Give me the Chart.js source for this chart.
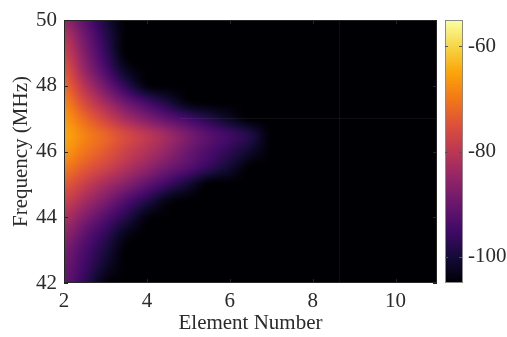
<!DOCTYPE html>
<html>
<head>
<meta charset="utf-8">
<script src="https://cdn.jsdelivr.net/npm/chart.js@4"></script>
<style>
  html, body { margin: 0; padding: 0; background: #fff; }
</style>
</head>
<body>
<canvas id="chart" width="507" height="337"></canvas>
<script>
// grid nodes (element number x frequency), values in dB
const elementNumbers = [2, 2.5, 3, 3.5, 4, 4.5, 5, 5.5, 6, 6.5, 7, 7.5, 8, 11];
const frequencies = [42, 42.5, 43, 43.5, 44, 44.5, 45, 45.5, 46, 46.5, 47, 47.5, 48, 48.5, 49, 49.5, 50];
const power = [
    [-91, -97, -104, -105, -105, -105, -105, -105, -105, -105, -105, -105, -105, -105],
    [-90, -95.5, -101.5, -105, -105, -105, -105, -105, -105, -105, -105, -105, -105, -105],
    [-88.5, -94, -99.5, -105, -105, -105, -105, -105, -105, -105, -105, -105, -105, -105],
    [-85.5, -91.5, -97, -103, -105, -105, -105, -105, -105, -105, -105, -105, -105, -105],
    [-82, -87.5, -93, -98.5, -104, -105, -105, -105, -105, -105, -105, -105, -105, -105],
    [-78, -83, -88, -93.5, -98.5, -103.5, -105, -105, -105, -105, -105, -105, -105, -105],
    [-74, -78.5, -83, -87, -91.5, -96, -100.5, -105, -105, -105, -105, -105, -105, -105],
    [-70, -74, -77.5, -81.5, -85.5, -89.5, -93, -97, -101, -105, -105, -105, -105, -105],
    [-66.5, -70.5, -74, -78, -81.5, -85.5, -90, -94, -97.5, -101.5, -105, -105, -105, -105],
    [-65, -69, -72.5, -76.5, -80, -84, -88.5, -92.5, -95.5, -99, -105, -105, -105, -105],
    [-66.5, -72, -77.5, -83, -87.5, -91.5, -95, -98.5, -102, -105, -105, -105, -105, -105],
    [-69, -76.5, -83.5, -90, -95, -99.5, -104, -105, -105, -105, -105, -105, -105, -105],
    [-72, -81, -89.5, -97.5, -104, -105, -105, -105, -105, -105, -105, -105, -105, -105],
    [-75, -85, -94, -102.5, -105, -105, -105, -105, -105, -105, -105, -105, -105, -105],
    [-78, -87.5, -96.5, -105, -105, -105, -105, -105, -105, -105, -105, -105, -105, -105],
    [-81, -89.5, -98, -105, -105, -105, -105, -105, -105, -105, -105, -105, -105, -105],
    [-85, -92, -99.5, -105, -105, -105, -105, -105, -105, -105, -105, -105, -105, -105]
];
const xTicks = [2, 4, 6, 8, 10];
const yTicks = [42, 44, 46, 48, 50];
const cbarTicks = [-100, -80, -60];
const cRange = [-105, -55];

// inferno colormap stops
const INFERNO = ['#000004', '#160b39', '#420a68', '#6a176e', '#932667', '#bc3754',
                 '#dd513a', '#f37819', '#fca50a', '#f6d746', '#fcffa4']
    .map(h => [parseInt(h.slice(1, 3), 16), parseInt(h.slice(3, 5), 16), parseInt(h.slice(5, 7), 16)]);

function inferno(t) {
    t = Math.min(1, Math.max(0, t));
    const p = t * (INFERNO.length - 1);
    const i = Math.min(INFERNO.length - 2, Math.floor(p));
    const f = p - i;
    const a = INFERNO[i], b = INFERNO[i + 1];
    return [a[0] + (b[0] - a[0]) * f, a[1] + (b[1] - a[1]) * f, a[2] + (b[2] - a[2]) * f];
}

function findCell(arr, v) {
    for (let i = 0; i < arr.length - 1; i++) {
        if (v <= arr[i + 1]) return i;
    }
    return arr.length - 2;
}

// smooth (Catmull-Rom) shading between grid nodes, like shading interp
function cr(p0, p1, p2, p3, t) {
    return 0.5 * (2 * p1 + (p2 - p0) * t + (2 * p0 - 5 * p1 + 4 * p2 - p3) * t * t +
                  (3 * p1 - p0 - 3 * p2 + p3) * t * t * t);
}

function sample(e, f) {
    const nx = elementNumbers.length, ny = frequencies.length;
    const i = findCell(elementNumbers, e);
    const j = findCell(frequencies, f);
    const tx = Math.min(1, Math.max(0, (e - elementNumbers[i]) / (elementNumbers[i + 1] - elementNumbers[i])));
    const ty = Math.min(1, Math.max(0, (f - frequencies[j]) / (frequencies[j + 1] - frequencies[j])));
    const ci = k => Math.min(nx - 1, Math.max(0, k));
    const cj = k => Math.min(ny - 1, Math.max(0, k));
    const rows = [-1, 0, 1, 2].map(d => {
        const r = power[cj(j + d)];
        return cr(r[ci(i - 1)], r[i], r[i + 1], r[ci(i + 2)], tx);
    });
    return cr(rows[0], rows[1], rows[2], rows[3], ty);
}

const TEXT = '#2b2b2b';
const FONT = { family: '"Liberation Serif", "DejaVu Serif", serif', size: 21 };

const heatmapPlugin = {
    id: 'heatmap',
    beforeDatasetsDraw(chart) {
        const { ctx, chartArea: a, scales: { x, y, c } } = chart;
        const left = Math.round(a.left), top = Math.round(a.top);
        const w = Math.round(a.right) - left, h = Math.round(a.bottom) - top;
        const img = ctx.createImageData(w, h);
        for (let j = 0; j < h; j++) {
            const f = y.getValueForPixel(top + j + 0.5);
            for (let i = 0; i < w; i++) {
                const e = x.getValueForPixel(left + i + 0.5);
                const v = sample(e, f);
                const t = (c.bottom - c.getPixelForValue(v)) / (c.bottom - c.top);
                const col = inferno(t);
                const k = (j * w + i) * 4;
                img.data[k] = col[0];
                img.data[k + 1] = col[1];
                img.data[k + 2] = col[2];
                img.data[k + 3] = 255;
            }
        }
        ctx.putImageData(img, left, top);
    },
    afterDraw(chart) {
        const { ctx, chartArea: a, scales: { x, y, c } } = chart;
        ctx.save();
        // faint patch seams seen in the original render
        ctx.strokeStyle = 'rgba(255,255,255,0.06)';
        ctx.lineWidth = 1;
        ctx.beginPath();
        const sy = Math.round(y.getPixelForValue(47.02)) + 0.5;
        const sx = Math.round(x.getPixelForValue(8.64)) + 0.5;
        ctx.moveTo(x.getPixelForValue(4.8), sy); ctx.lineTo(a.right, sy);
        ctx.moveTo(sx, a.top); ctx.lineTo(sx, a.bottom);
        ctx.stroke();

        // axes box + inward ticks
        ctx.strokeStyle = '#262626';
        ctx.strokeRect(a.left + 0.5, a.top + 0.5, a.right - a.left - 1, a.bottom - a.top - 1);
        ctx.beginPath();
        xTicks.forEach(v => {
            const px = Math.round(x.getPixelForValue(v)) + 0.5;
            ctx.moveTo(px, a.bottom); ctx.lineTo(px, a.bottom - 4);
            ctx.moveTo(px, a.top); ctx.lineTo(px, a.top + 4);
        });
        yTicks.forEach(v => {
            const py = Math.round(y.getPixelForValue(v)) + 0.5;
            ctx.moveTo(a.left, py); ctx.lineTo(a.left + 4, py);
            ctx.moveTo(a.right, py); ctx.lineTo(a.right - 4, py);
        });
        ctx.stroke();

        // colorbar
        const bx = Math.round(a.right) + 8, bw = 18;
        for (let py = Math.round(c.top); py < Math.round(c.bottom); py++) {
            const v = c.getValueForPixel(py + 0.5);
            const col = inferno((v - cRange[0]) / (cRange[1] - cRange[0]));
            ctx.fillStyle = `rgb(${col[0] | 0},${col[1] | 0},${col[2] | 0})`;
            ctx.fillRect(bx, py, bw, 1);
        }
        ctx.strokeStyle = '#8a8a8a';
        ctx.strokeRect(bx + 0.5, Math.round(c.top) + 0.5, bw - 1, Math.round(c.bottom - c.top) - 1);
        ctx.strokeStyle = '#555';
        ctx.beginPath();
        cbarTicks.forEach(v => {
            const py = Math.round(c.getPixelForValue(v)) + 0.5;
            ctx.moveTo(bx + bw - 1, py); ctx.lineTo(bx + bw - 4, py);
            ctx.moveTo(bx, py); ctx.lineTo(bx + 3, py);
        });
        ctx.stroke();
        ctx.restore();
    }
};

const fixedTicks = list => scale => { scale.ticks = list.map(v => ({ value: v })); };
// fixed box sizes, no label overflow padding
const fitBox = (w, h) => s => {
    if (w !== null) s.width = w;
    if (h !== null) s.height = h;
    s.paddingTop = 0; s.paddingBottom = 0; s.paddingLeft = 0; s.paddingRight = 0;
};

new Chart(document.getElementById('chart'), {
    type: 'scatter',
    data: { datasets: [{ data: [] }] },
    options: {
        responsive: false,
        animation: false,
        devicePixelRatio: 1,
        layout: { padding: { top: 20, left: 0, right: 0, bottom: 0 } },
        plugins: { legend: { display: false }, tooltip: { enabled: false } },
        scales: {
            x: {
                type: 'linear', min: 2, max: 11,
                afterBuildTicks: fixedTicks(xTicks),
                afterFit: fitBox(null, 54),
                grid: { display: false, drawTicks: false },
                border: { display: false },
                ticks: { color: TEXT, font: FONT, padding: 6, maxRotation: 0 },
                title: { display: true, text: 'Element Number', color: TEXT, font: FONT,
                         padding: { top: 0, bottom: 1 } }
            },
            y: {
                type: 'linear', min: 42, max: 50,
                afterBuildTicks: fixedTicks(yTicks),
                afterFit: fitBox(64, null),
                grid: { display: false, drawTicks: false },
                border: { display: false },
                ticks: { color: TEXT, font: FONT, padding: 7 },
                title: { display: true, text: 'Frequency (MHz)', color: TEXT, font: FONT,
                         padding: { top: 9, bottom: 0 } }
            },
            c: {
                type: 'linear', position: 'right', axis: 'y',
                min: cRange[0], max: cRange[1],
                afterBuildTicks: fixedTicks(cbarTicks),
                afterFit: fitBox(70, null),
                grid: { display: false, drawTicks: false },
                border: { display: false },
                ticks: { color: TEXT, font: FONT, padding: 31 }
            }
        }
    },
    plugins: [heatmapPlugin]
});
</script>
</body>
</html>
